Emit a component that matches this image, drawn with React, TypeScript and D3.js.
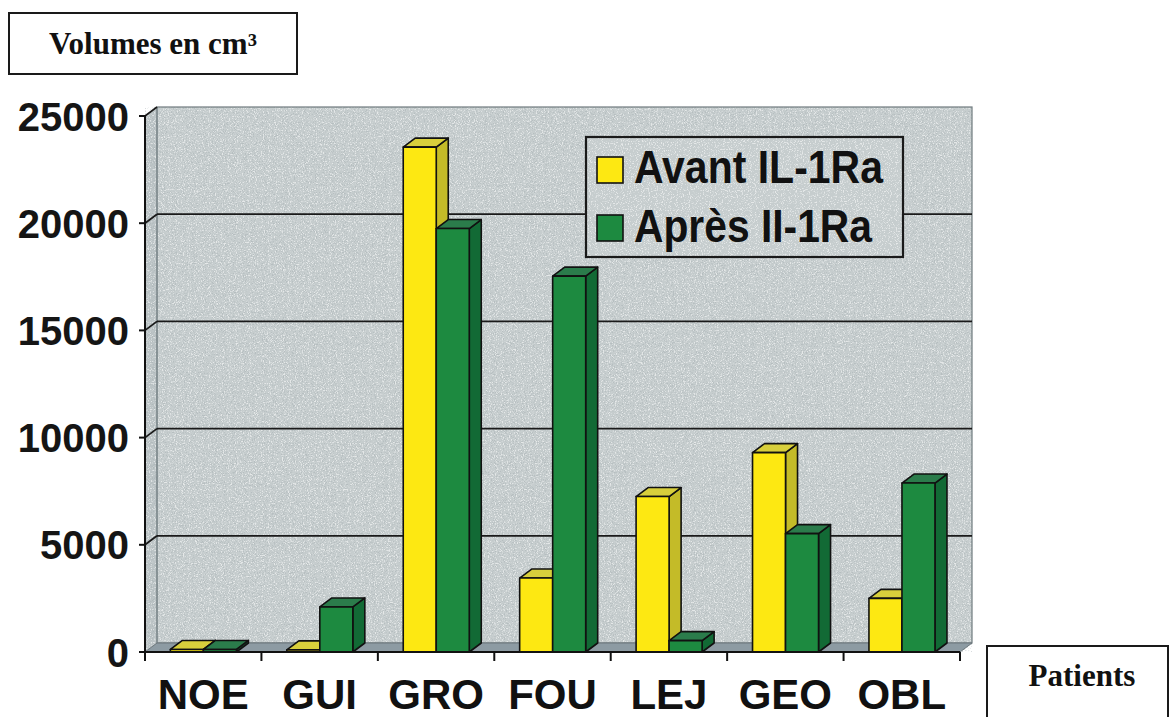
import React from "react";
import * as d3 from "d3";

const categories = ["NOE", "GUI", "GRO", "FOU", "LEJ", "GEO", "OBL"];
const series = ["Avant IL-1Ra", "Après II-1Ra"];
const avant = [120, 100, 23550, 3450, 7250, 9300, 2500];
const apres = [120, 2100, 19750, 17530, 530, 5520, 7880];
const yTicks = [0, 5000, 10000, 15000, 20000, 25000];

const W = 1170;
const H = 717;
const DX = 12;
const DY = -9;
const BG = "#c6cdce";

const seriesColors = [
  { front: "#fde812", side: "#c4bb28", top: "#d8cf3c" },
  { front: "#1d8a40", side: "#126a35", top: "#2b7c4b" },
];

export default function App() {
  const x = d3.scaleBand<string>().domain(categories).range([145, 960]).paddingInner(0).paddingOuter(0);
  const y = d3.scaleLinear().domain([0, 25000]).range([652, 116]);
  const bw = x.bandwidth();
  const sub = d3
    .scaleBand<string>()
    .domain(series)
    .range([bw * 0.218, bw * 0.785])
    .padding(0);

  const x0 = x.range()[0];
  const x1 = x.range()[1];
  const yb = y(0);
  const yt = y(25000);
  const values = [avant, apres];

  const bars: React.ReactNode[] = [];
  categories.forEach((c, ci) => {
    series.forEach((s, si) => {
      const v = values[si][ci];
      const bx = (x(c) as number) + (sub(s) as number);
      const w = sub.bandwidth();
      const top = y(v);
      const col = seriesColors[si];
      const front = `M${bx},${yb}L${bx},${top}L${bx + w},${top}L${bx + w},${yb}Z`;
      const side = `M${bx + w},${yb}L${bx + w},${top}L${bx + w + DX},${top + DY}L${bx + w + DX},${yb + DY}Z`;
      const topF = `M${bx},${top}L${bx + DX},${top + DY}L${bx + w + DX},${top + DY}L${bx + w},${top}Z`;
      bars.push(
        <g key={`${c}-${s}`} stroke="#111" strokeWidth={1.6} strokeLinejoin="round">
          <path d={side} fill={col.side} />
          <path d={topF} fill={col.top} />
          <path d={front} fill={col.front} />
        </g>
      );
    });
  });

  const legendX = 586;
  const legendY = 137;
  const legendW = 317;
  const legendH = 120;

  return (
    <svg
      width={W}
      height={H}
      viewBox={`0 0 ${W} ${H}`}
      style={{ position: "absolute", left: 0, top: 0, display: "block", background: "#fff" }}
    >
      <defs>
        <filter id="noiseLight" x="0" y="0" width="100%" height="100%">
          <feTurbulence type="fractalNoise" baseFrequency="0.85" numOctaves="2" seed="4" />
          <feColorMatrix type="matrix" values="0 0 0 0 1  0 0 0 0 1  0 0 0 0 1  6 0 0 0 -3.2" />
        </filter>
        <filter id="noiseDark" x="0" y="0" width="100%" height="100%">
          <feTurbulence type="fractalNoise" baseFrequency="0.9" numOctaves="2" seed="9" />
          <feColorMatrix type="matrix" values="0 0 0 0 0.35  0 0 0 0 0.4  0 0 0 0 0.42  -6 0 0 0 2.8" />
        </filter>
      </defs>

      {/* back wall */}
      <rect x={x0 + DX} y={yt + DY} width={x1 - x0} height={yb - yt} fill={BG} />
      {/* left wall */}
      <path
        d={`M${x0},${yb}L${x0},${yt}L${x0 + DX},${yt + DY}L${x0 + DX},${yb + DY}Z`}
        fill="#bcc4c6"
      />
      <rect x={x0} y={yt + DY} width={x1 - x0 + DX} height={yb - yt - DY} fill="#fff" filter="url(#noiseLight)" opacity={0.55} />
      <rect x={x0} y={yt + DY} width={x1 - x0 + DX} height={yb - yt - DY} fill="#000" filter="url(#noiseDark)" opacity={0.4} />
      {/* back wall outline */}
      <rect x={x0 + DX} y={yt + DY} width={x1 - x0} height={yb - yt} fill="none" stroke="#6f7a7e" strokeWidth={1.2} />
      <line x1={x0 + DX} x2={x0 + DX} y1={yt + DY} y2={yb + DY} stroke="#7f8a8e" strokeWidth={1} />

      {/* floor */}
      <path
        d={`M${x0},${yb}L${x1},${yb}L${x1 + DX},${yb + DY}L${x0 + DX},${yb + DY}Z`}
        fill="#8d9ba3"
        stroke="#6c777c"
        strokeWidth={1}
      />

      {/* gridlines */}
      {yTicks.slice(1, -1).map((t) => (
        <g key={`g${t}`} stroke="#1a1a1a" strokeWidth={1.8} fill="none">
          <line x1={x0 + DX} x2={x1 + DX} y1={y(t) + DY} y2={y(t) + DY} />
          <line x1={x0} x2={x0 + DX} y1={y(t)} y2={y(t) + DY} />
        </g>
      ))}
      <line x1={x0} x2={x0 + DX} y1={yt} y2={yt + DY} stroke="#1a1a1a" strokeWidth={1.6} />

      {/* legend */}
      <rect x={legendX} y={legendY} width={legendW} height={legendH} fill={BG} />
      <rect x={legendX} y={legendY} width={legendW} height={legendH} fill="#fff" filter="url(#noiseLight)" opacity={0.55} />
      <rect x={legendX} y={legendY} width={legendW} height={legendH} fill="none" stroke="#1a1a1a" strokeWidth={2.2} />
      {series.map((s, i) => (
        <g key={s}>
          <rect
            x={legendX + 11}
            y={legendY + 20 + i * 58}
            width={26}
            height={26}
            fill={seriesColors[i].front}
            stroke="#111"
            strokeWidth={1.6}
          />
          <text
            x={legendX + 48}
            y={legendY + 46 + i * 59}
            fontFamily="'Liberation Sans', Arial, Helvetica, sans-serif"
            fontWeight="bold"
            fontSize={46}
            fill="#111"
            textLength={i === 0 ? 249 : 238}
            lengthAdjust="spacingAndGlyphs"
          >
            {s}
          </text>
        </g>
      ))}

      {/* bars */}
      {bars}

      {/* y axis */}
      <line x1={x0} x2={x0} y1={yt - 1} y2={yb + 1} stroke="#111" strokeWidth={2} />
      {yTicks.map((t) => (
        <g key={`t${t}`}>
          <line x1={x0 - 6} x2={x0} y1={y(t)} y2={y(t)} stroke="#111" strokeWidth={2} />
          <text
            x={129}
            y={y(t) + 14.5}
            textAnchor="end"
            fontFamily="'Liberation Sans', Arial, Helvetica, sans-serif"
            fontWeight="bold"
            fontSize={40}
            fill="#151515"
          >
            {t}
          </text>
        </g>
      ))}

      {/* x axis */}
      <line x1={x0} x2={x1} y1={yb} y2={yb} stroke="#111" strokeWidth={2} />
      {[...categories.map((c) => x(c) as number), x1].map((px, i) => (
        <line key={`xt${i}`} x1={px} x2={px} y1={yb} y2={yb + 9} stroke="#111" strokeWidth={2} />
      ))}
      {categories.map((c) => (
        <text
          key={`xl${c}`}
          x={(x(c) as number) + bw / 2}
          y={709}
          textAnchor="middle"
          fontFamily="'Liberation Sans', Arial, Helvetica, sans-serif"
          fontWeight="bold"
          fontSize={42}
          fill="#111"
        >
          {c}
        </text>
      ))}

      {/* title box */}
      <rect x={9} y={13} width={288} height={61} fill="#fff" stroke="#1a1a1a" strokeWidth={2} />
      <text
        x={153}
        y={54}
        textAnchor="middle"
        fontFamily="'Liberation Serif', 'Times New Roman', serif"
        fontWeight="bold"
        fontSize={31}
        fill="#111"
      >
        Volumes en cm³
      </text>

      {/* Patients box */}
      <rect x={987} y={646} width={181} height={80} fill="#fff" stroke="#1a1a1a" strokeWidth={2} />
      <text
        x={1082}
        y={686}
        textAnchor="middle"
        fontFamily="'Liberation Serif', 'Times New Roman', serif"
        fontWeight="bold"
        fontSize={31}
        fill="#111"
      >
        Patients
      </text>
    </svg>
  );
}
